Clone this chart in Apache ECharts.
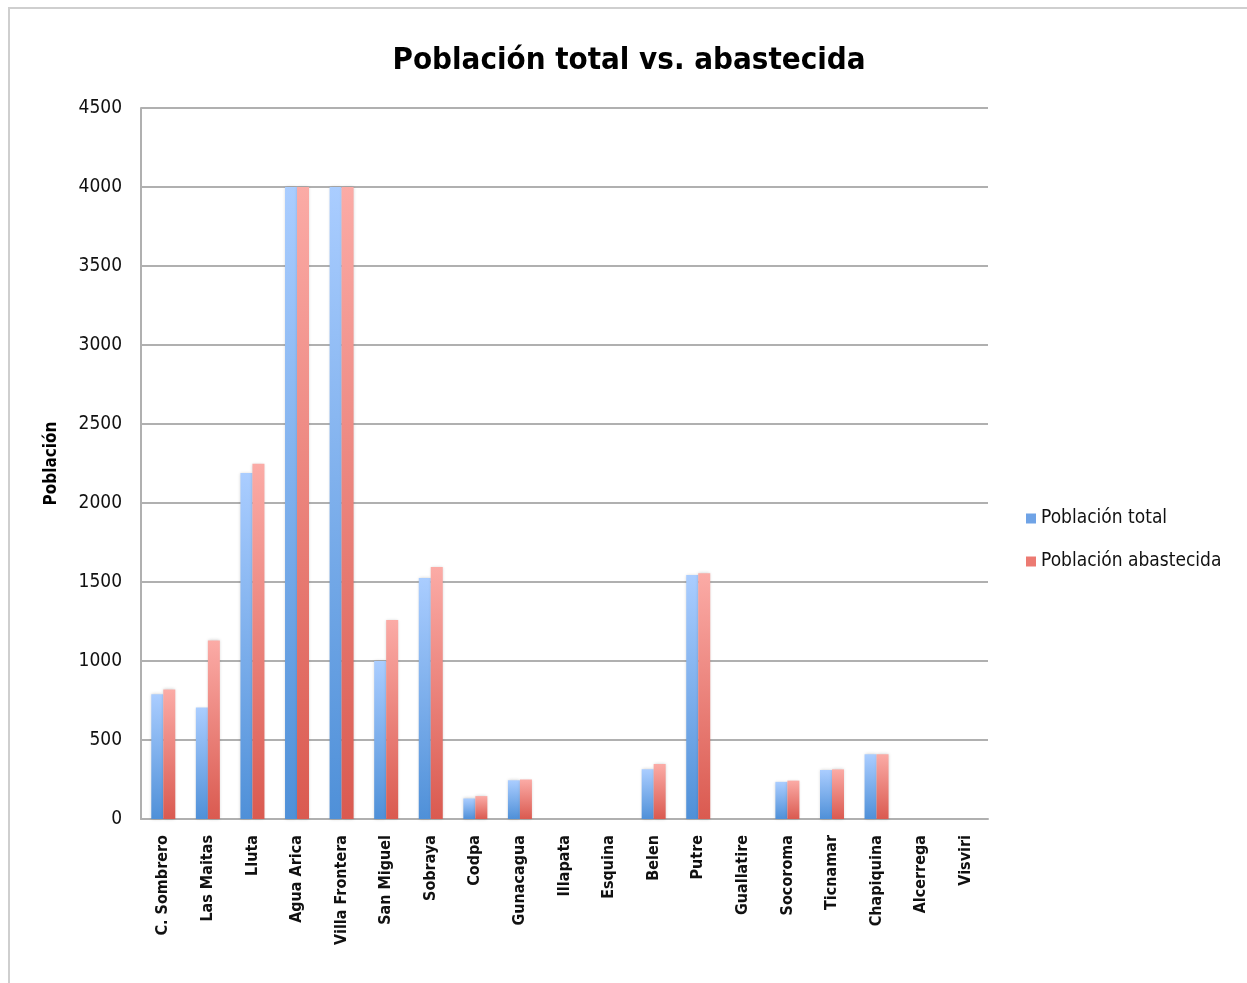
<!DOCTYPE html>
<html>
<head>
<meta charset="utf-8">
<script src="https://cdn.jsdelivr.net/npm/echarts@6/dist/echarts.min.js"></script>
<style>
html, body { margin: 0; padding: 0; background: #fff; }
#frame { position: absolute; left: 8px; top: 7px; width: 1239px; height: 976px; border-left: 2px solid #cfcfcf; border-top: 2px solid #cfcfcf; }
#main { position: absolute; left: 0; top: 0; width: 1247px; height: 983px; }
</style>
</head>
<body>
<div id="frame"></div>
<div id="main"></div>
<script>
var categories = ['C. Sombrero', 'Las Maitas', 'Lluta', 'Agua Arica', 'Villa Frontera', 'San Miguel', 'Sobraya', 'Codpa', 'Gunacagua', 'Illapata', 'Esquina', 'Belen', 'Putre', 'Guallatire', 'Socoroma', 'Ticnamar', 'Chapiquina', 'Alcerrega', 'Visviri'];
var poblacionTotal = [790, 705, 2190, 4000, 4000, 1000, 1525, 130, 245, 0, 0, 315, 1545, 0, 235, 310, 410, 0, 0];
var poblacionAbastecida = [820, 1130, 2248, 4000, 4000, 1260, 1595, 145, 250, 0, 0, 348, 1555, 0, 243, 314, 410, 0, 0];
var yTicks = [0, 500, 1000, 1500, 2000, 2500, 3000, 3500, 4000, 4500];

var font = '"DejaVu Sans Condensed", "DejaVu Sans", sans-serif';

function grad(top, bottom) {
	return new echarts.graphic.LinearGradient(0, 0, 0, 1, [
		{ offset: 0, color: top },
		{ offset: 1, color: bottom }
	]);
}

var chart = echarts.init(document.getElementById('main'), null, { renderer: 'canvas' });
var option = {
	animation: false,
	title: {
		text: 'Población total vs. abastecida',
		left: 624,
		textAlign: 'center',
		top: 40,
		textStyle: { fontFamily: font, fontWeight: 'bold', fontSize: 31, color: '#000' }
	},
	legend: {
		orient: 'vertical',
		left: 1021,
		top: 504,
		itemWidth: 10,
		itemHeight: 10,
		itemGap: 24,
		icon: 'rect',
		textStyle: { fontFamily: font, fontSize: 19, color: '#111' },
		data: [
			{ name: 'Población total', itemStyle: { color: '#6fa3e6' } },
			{ name: 'Población abastecida', itemStyle: { color: '#ec7a72' } }
		]
	},
	grid: { left: 141, right: 259, top: 108, bottom: 164 },
	xAxis: {
		type: 'category',
		data: categories,
		axisLine: { lineStyle: { color: '#b0b0b0', width: 2 } },
		axisTick: { show: false },
		axisLabel: {
			rotate: 90,
			interval: 0,
			margin: 16,
			fontFamily: font,
			fontWeight: 'bold',
			fontSize: 16,
			color: '#111'
		}
	},
	yAxis: {
		type: 'value',
		min: yTicks[0],
		max: yTicks[yTicks.length - 1],
		interval: 500,
		name: 'Población',
		nameLocation: 'middle',
		nameGap: 81,
		nameTextStyle: { fontFamily: font, fontWeight: 'bold', fontSize: 17, color: '#000' },
		axisLine: { show: true, lineStyle: { color: '#b0b0b0', width: 2 } },
		axisTick: { show: false },
		axisLabel: { fontFamily: font, fontSize: 19, color: '#111', margin: 19, formatter: function (v) { return String(v); } },
		splitLine: { lineStyle: { color: '#b0b0b0', width: 2 } }
	},
	series: [
		{
			name: 'Población total',
			type: 'bar',
			data: poblacionTotal,
			barWidth: 12,
			barGap: '0%',
			itemStyle: { color: grad('#aacdff', '#4f90d8'), shadowColor: 'rgba(0,0,0,0.2)', shadowBlur: 3 }
		},
		{
			name: 'Población abastecida',
			type: 'bar',
			data: poblacionAbastecida,
			barWidth: 12,
			itemStyle: { color: grad('#fbaba6', '#da5a50'), shadowColor: 'rgba(0,0,0,0.2)', shadowBlur: 3 }
		}
	]
};
chart.setOption(option);
</script>
</body>
</html>
